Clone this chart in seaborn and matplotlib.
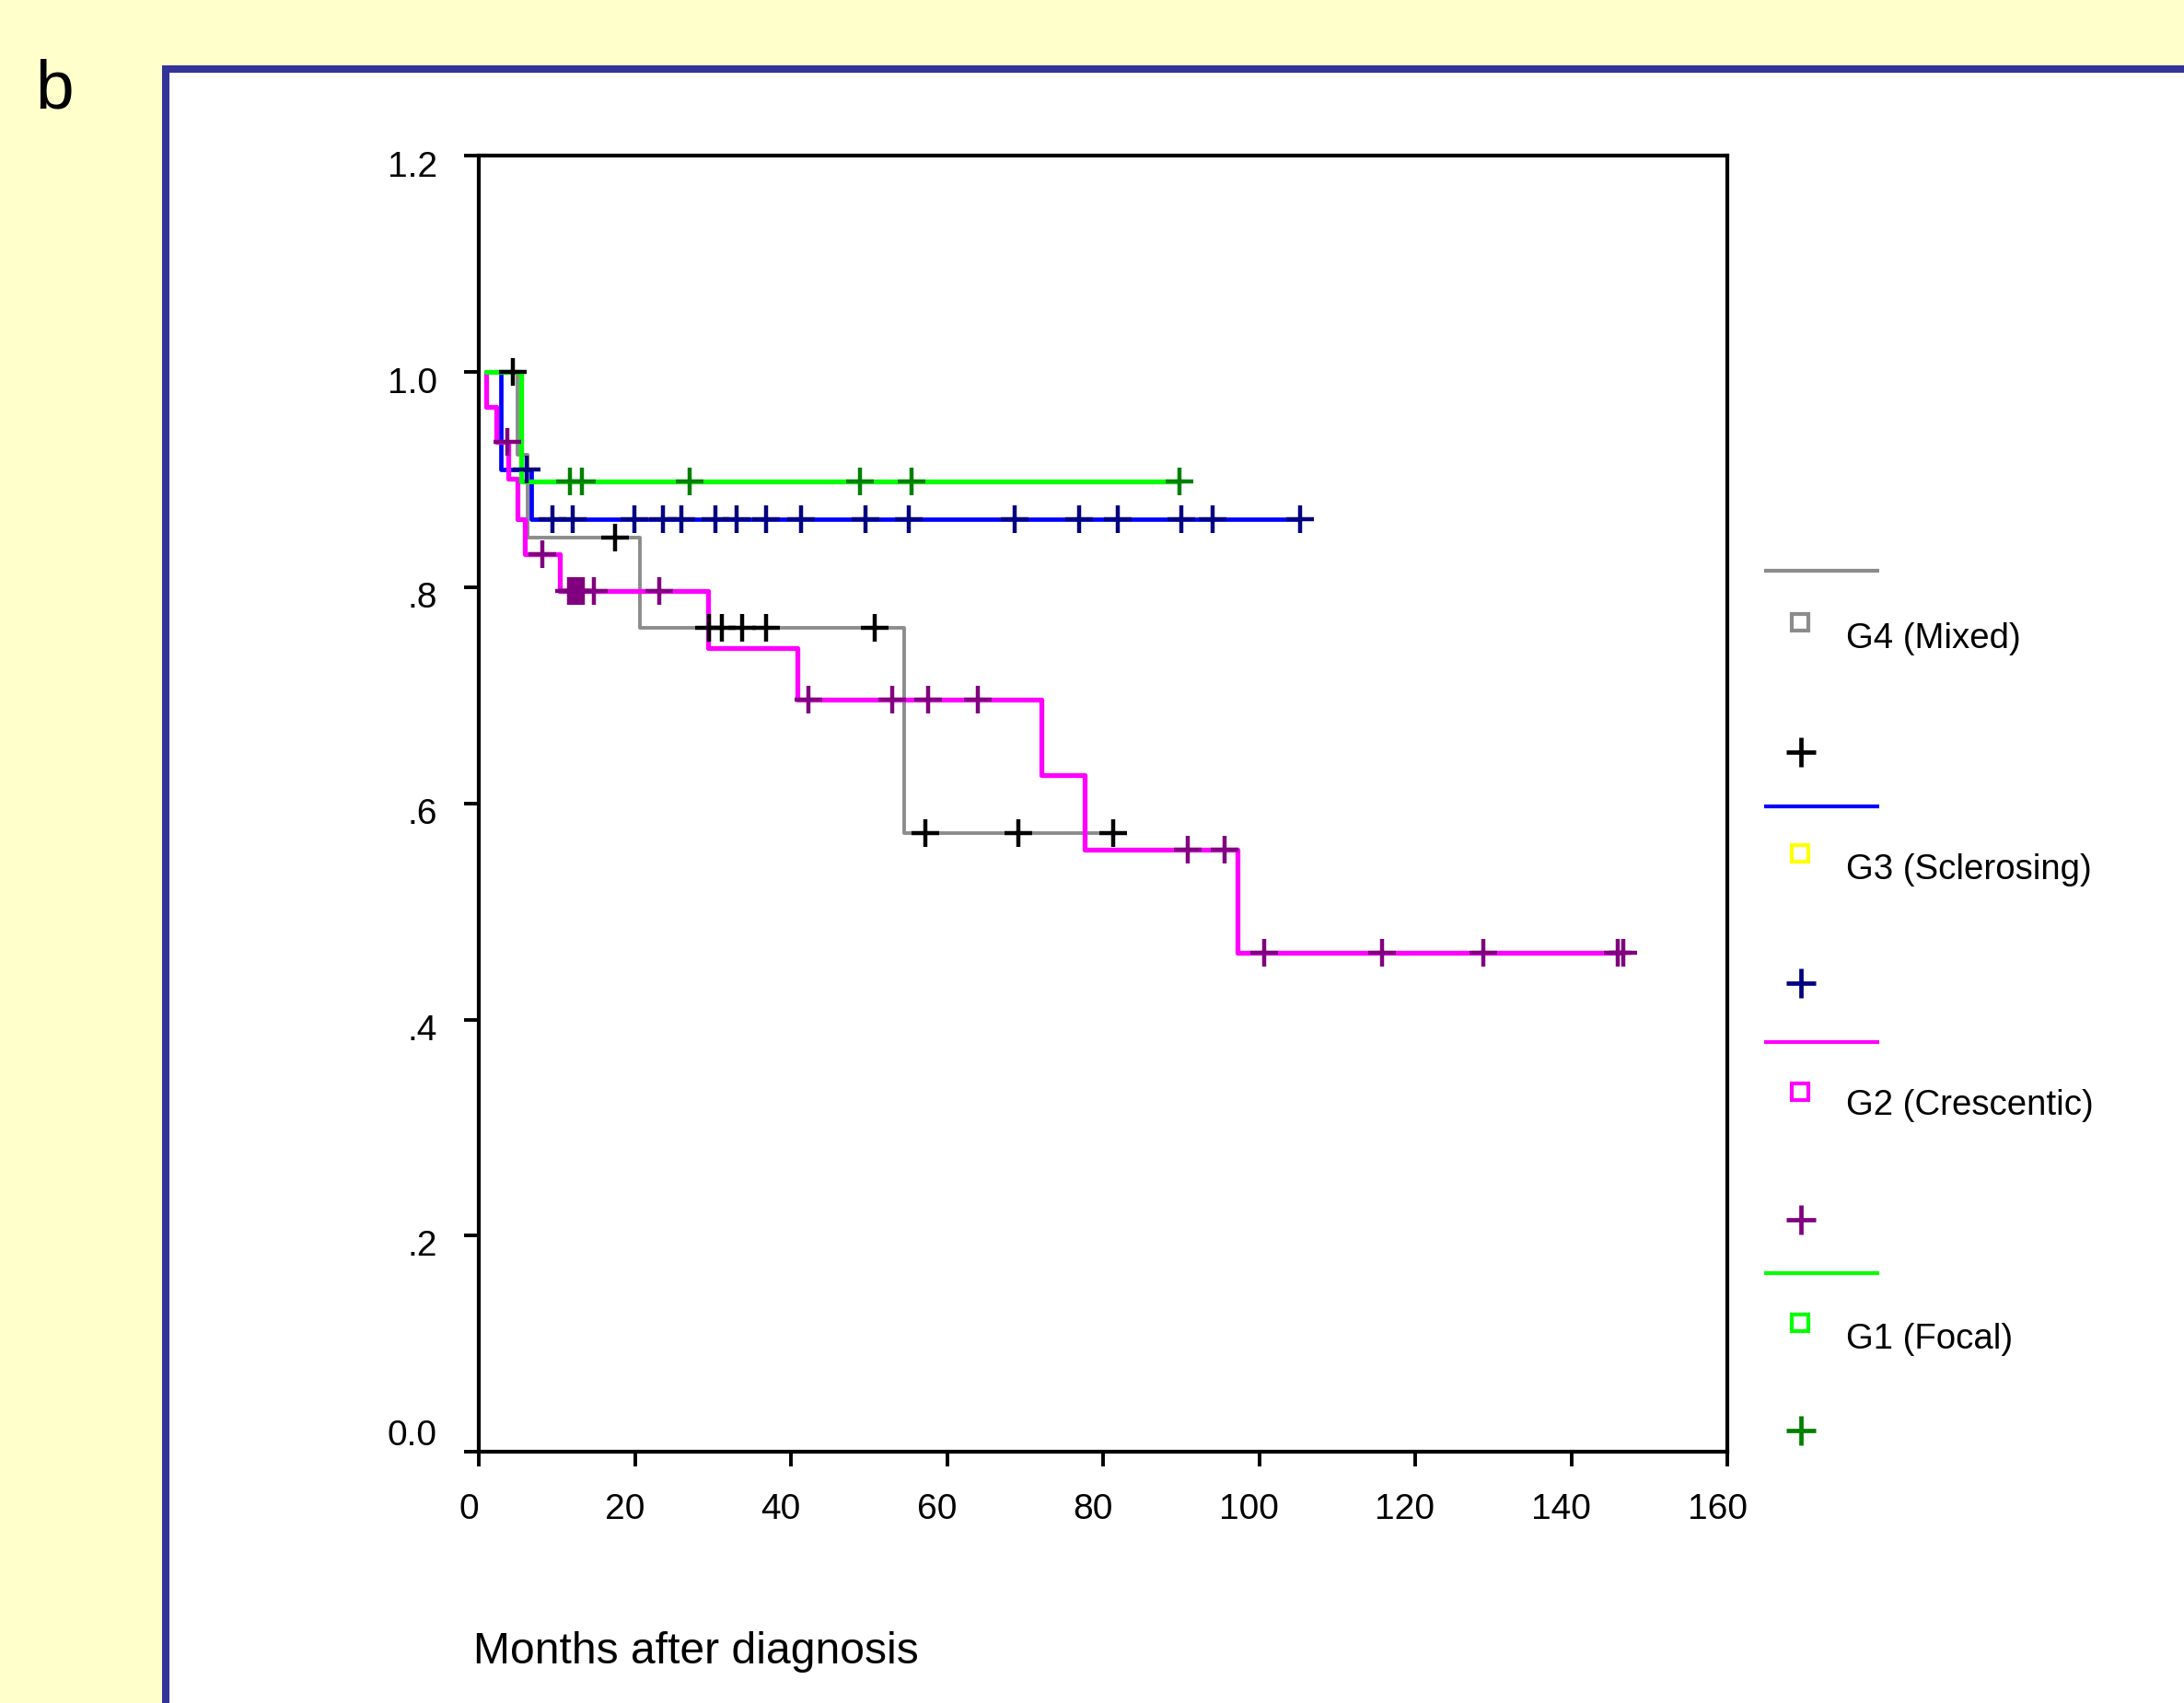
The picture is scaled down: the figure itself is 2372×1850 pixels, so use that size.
import numpy as np
import pandas as pd
import matplotlib
matplotlib.use('Agg')
import matplotlib.pyplot as plt
import matplotlib.transforms as mtransforms
from matplotlib.patches import Rectangle
import seaborn as sns

# --- data ---
groups = ['G4 (Mixed)', 'G3 (Sclerosing)', 'G2 (Crescentic)', 'G1 (Focal)']
start_time = 1.0

# step (event) times and survival after each step
g4_times = [4.9, 6.3, 20.7, 54.5]
g4_surv = [0.923, 0.846, 0.763, 0.573]
g4_cens = [4.4, 17.5, 29.5, 31.1, 33.7, 36.8, 50.7, 57.2, 69.2, 81.3]

g3_times = [2.8, 6.7]
g3_surv = [0.909, 0.863]
g3_cens = [6.1, 9.4, 12.0, 19.9, 23.6, 25.9, 30.3, 33.0, 36.8, 41.3, 49.5,
           55.1, 68.7, 76.9, 81.9, 90.0, 94.0, 105.3]

g2_times = [1.0, 2.3, 3.8, 4.9, 5.9, 10.4, 29.4, 40.8, 72.1, 77.6, 97.2]
g2_surv = [0.967, 0.935, 0.901, 0.863, 0.831, 0.797, 0.744, 0.696, 0.626, 0.557, 0.462]
g2_cens = [3.6, 8.1, 11.6, 11.9, 12.3, 12.6, 13.0, 13.3, 14.8, 23.1, 42.2, 53.0,
           57.6, 63.9, 90.8, 95.6, 100.6, 115.8, 128.7, 145.9, 146.7]

g1_times = [5.4]
g1_surv = [0.898]
g1_cens = [11.7, 13.2, 27.0, 48.8, 55.5, 89.8]

x_ticks = [0, 20, 40, 60, 80, 100, 120, 140, 160]
y_ticks = [0.0, 0.2, 0.4, 0.6, 0.8, 1.0, 1.2]
y_tick_labels = ['0.0', '.2', '.4', '.6', '.8', '1.0', '1.2']

line_colors = ['#8c8c8c', '#0000ff', '#ff00ff', '#00ff00']
cens_colors = ['#000000', '#000080', '#800080', '#008000']
square_colors = ['#8c8c8c', '#ffff00', '#ff00ff', '#00ff00']
line_widths = [1.4, 1.7, 1.9, 1.9]

series = [(g4_times, g4_surv, g4_cens), (g3_times, g3_surv, g3_cens),
          (g2_times, g2_surv, g2_cens), (g1_times, g1_surv, g1_cens)]

# --- build curves ---
curve_rows = []
cens_rows = []
for name, (t, s, c) in zip(groups, series):
    tt = [start_time] + t + [max(c)]
    ss = [1.0] + s + [s[-1]]
    for a, b in zip(tt, ss):
        curve_rows.append((name, a, b))
    tt = np.array(tt)
    ss = np.array(ss)
    for ci in c:
        idx = np.searchsorted(tt, ci, side='right') - 1
        cens_rows.append((name, ci, ss[idx]))
curves = pd.DataFrame(curve_rows, columns=['group', 'time', 'surv'])
cens = pd.DataFrame(cens_rows, columns=['group', 'time', 'surv'])

sns.set_style('white')
plt.rcParams['font.family'] = ['Liberation Sans', 'DejaVu Sans']
plt.rcParams['text.color'] = 'black'
plt.rcParams['axes.labelcolor'] = 'black'
plt.rcParams['xtick.color'] = 'black'
plt.rcParams['ytick.color'] = 'black'

W, H = 2372, 1850
DPI = 200
fig = plt.figure(figsize=(W / DPI, H / DPI), dpi=DPI)
fig.patch.set_facecolor('#ffffcc')

# background layer in pixel coordinates (frame, panel letter, legend)
lax = fig.add_axes([0, 0, 1, 1], zorder=0)
lax.set_xlim(0, W)
lax.set_ylim(H, 0)
lax.axis('off')
lax.patch.set_alpha(0)
lax.add_patch(Rectangle((180, 75), 2600, 2000, facecolor='white',
                        edgecolor='#333399', linewidth=2.9))
lax.text(38, 117, 'b', fontsize=27, ha='left', va='baseline', color='black')

ax = fig.add_axes([520 / W, 1 - 1577 / H, 1356 / W, 1408 / H], zorder=1)
ax.set_facecolor('white')

for name, lc, lw in zip(groups, line_colors, line_widths):
    d = curves[curves['group'] == name]
    sns.lineplot(data=d, x='time', y='surv', color=lc, estimator=None, sort=False,
                 drawstyle='steps-post', linewidth=lw, legend=False, ax=ax)
for name, cc in zip(groups, cens_colors):
    d = cens[cens['group'] == name]
    sns.scatterplot(data=d, x='time', y='surv', marker='+', s=121, color=cc,
                    linewidth=1.6, legend=False, ax=ax, zorder=5)

ax.set_xlim(0, 160)
ax.set_ylim(0, 1.2)
ax.set_xticks(x_ticks)
ax.set_xticklabels([str(v) for v in x_ticks])
ax.set_yticks(y_ticks)
ax.set_yticklabels(y_tick_labels)
ax.tick_params(axis='both', direction='out', length=5.8, width=1.4,
               labelsize=14, colors='black')
ax.tick_params(axis='x', pad=10.5)
ax.tick_params(axis='y', pad=10.5)
ax.tick_params(top=False, right=False, bottom=True, left=True)
for sp in ax.spines.values():
    sp.set_visible(True)
    sp.set_color('black')
    sp.set_linewidth(1.5)

# SPSS places the tick labels a little off the tick marks
offset = mtransforms.ScaledTranslation(-11 / DPI, 0, fig.dpi_scale_trans)
for lab in ax.get_xticklabels():
    lab.set_transform(lab.get_transform() + offset)
y_label_shift = [21, -8, -8, -8, -8, -9, -9]  # pixels, + is up
for lab, dy in zip(ax.get_yticklabels(), y_label_shift):
    lab.set_transform(lab.get_transform() +
                      mtransforms.ScaledTranslation(0, dy / DPI, fig.dpi_scale_trans))

ax.set_ylabel('')
ax.set_xlabel('Months after diagnosis', fontsize=17.3)
ax.xaxis.set_label_coords((514 - 520) / 1356, (1577 - 1807) / 1408)
ax.xaxis.label.set_ha('left')
ax.xaxis.label.set_va('baseline')

# --- hand-made legend, SPSS style ---
leg_line_y = [620, 876, 1132, 1383]
leg_square_y = [676, 927, 1186, 1437]
leg_text_y = [694, 945, 1201, 1455]
leg_plus_y = [817, 1068, 1325, 1554]
for i, name in enumerate(groups):
    lax.plot([1916, 2041], [leg_line_y[i]] * 2, color=line_colors[i], lw=1.5,
             solid_capstyle='butt')
    lax.plot([1955], [leg_square_y[i]], marker='s', ms=6.8, mfc='none',
             mec=square_colors[i], mew=1.5)
    lax.text(2005, leg_text_y[i], name, fontsize=13.8, ha='left', va='center')
    lax.plot([1956], [leg_plus_y[i]], marker='+', ms=11.5, color=cens_colors[i],
             mew=1.7)

fig.savefig('out.png', dpi=DPI, facecolor=fig.get_facecolor())
